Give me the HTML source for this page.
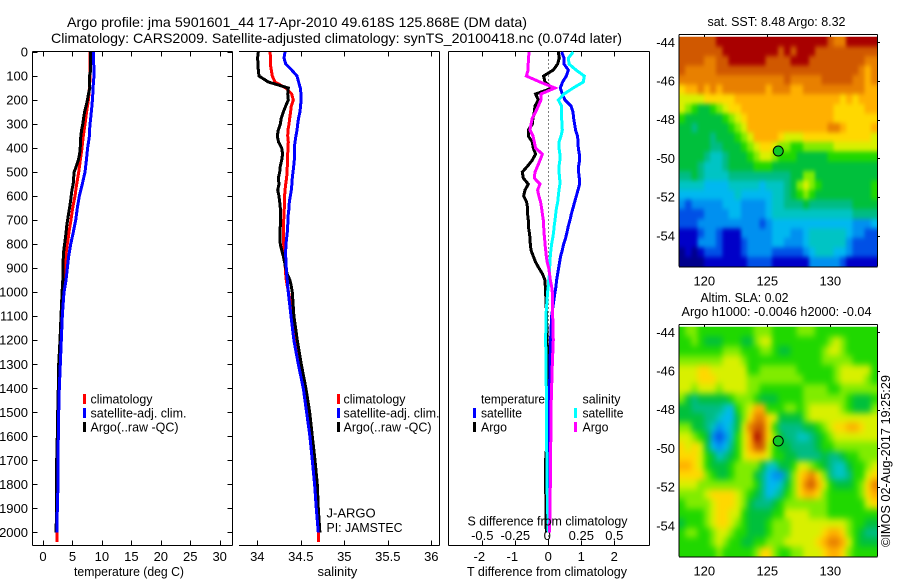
<!DOCTYPE html>
<html lang="en">
<head>
<meta charset="utf-8">
<title>Argo profile jma 5901601_44</title>
<style>
html,body{margin:0;padding:0;background:#fff;width:900px;height:580px;overflow:hidden}
svg{display:block}
text{font-family:"Liberation Sans",sans-serif;font-size:13px;fill:#000}
</style>
</head>
<body>
<svg id="chart" width="900" height="580" viewBox="0 0 900 580" xmlns="http://www.w3.org/2000/svg">
<defs>
<filter id="smooth-sst" filterUnits="userSpaceOnUse" x="640" y="0" width="260" height="300" color-interpolation-filters="sRGB"><feGaussianBlur stdDeviation="1.8 2.4"/></filter>
<filter id="smooth-sla" filterUnits="userSpaceOnUse" x="640" y="290" width="260" height="290" color-interpolation-filters="sRGB"><feGaussianBlur stdDeviation="2.8 3.4"/></filter>
<clipPath id="clip-sst"><rect x="679" y="36.7" width="198" height="230"/></clipPath>
<clipPath id="clip-sla"><rect x="679" y="326.7" width="198" height="230"/></clipPath>
</defs>
<rect x="0" y="0" width="900" height="580" fill="#fff"/>
<text x="67" y="27" font-size="14" textLength="460" lengthAdjust="spacingAndGlyphs" style="font-size:14px">Argo profile: jma 5901601_44 17-Apr-2010 49.618S 125.868E (DM data)</text>
<text x="51" y="43" textLength="571" lengthAdjust="spacingAndGlyphs" style="font-size:14px">Climatology: CARS2009. Satellite-adjusted climatology: synTS_20100418.nc (0.074d later)</text>
<g id="p1"></g>
<g id="p2"></g>
<g id="p3"></g>
<g id="m1"></g>
<g id="m2"></g>

<text x="90.5" y="403.5" textLength="62" lengthAdjust="spacingAndGlyphs">climatology</text>
<text x="90.5" y="417.5" textLength="96" lengthAdjust="spacingAndGlyphs">satellite-adj. clim.</text>
<text x="90.5" y="431.5" textLength="88" lengthAdjust="spacingAndGlyphs">Argo(..raw -QC)</text>
<rect x="83" y="394" width="3" height="10" fill="#f00"/>
<rect x="83" y="408" width="3" height="10" fill="#00f"/>
<rect x="83" y="422" width="3" height="10" fill="#000"/>

<text x="343.5" y="403.5" textLength="62" lengthAdjust="spacingAndGlyphs">climatology</text>
<text x="343.5" y="417.5" textLength="96" lengthAdjust="spacingAndGlyphs">satellite-adj. clim.</text>
<text x="343.5" y="431.5" textLength="88" lengthAdjust="spacingAndGlyphs">Argo(..raw -QC)</text>
<rect x="337" y="394" width="3" height="10" fill="#f00"/>
<rect x="337" y="408" width="3" height="10" fill="#00f"/>
<rect x="337" y="422" width="3" height="10" fill="#000"/>
<text x="326.5" y="517.5">J-ARGO</text>
<text x="326.5" y="532" textLength="76" lengthAdjust="spacingAndGlyphs">PI: JAMSTEC</text>

<text x="481" y="403.5" textLength="64" lengthAdjust="spacingAndGlyphs">temperature</text>
<text x="481" y="417.5" textLength="41" lengthAdjust="spacingAndGlyphs">satellite</text>
<text x="481" y="431.5" textLength="26" lengthAdjust="spacingAndGlyphs">Argo</text>
<rect x="473" y="408" width="3" height="10" fill="#00f"/>
<rect x="473" y="422" width="3" height="10" fill="#000"/>
<text x="582.5" y="403.5" textLength="38" lengthAdjust="spacingAndGlyphs">salinity</text>
<text x="582.5" y="417.5" textLength="41" lengthAdjust="spacingAndGlyphs">satellite</text>
<text x="582.5" y="431.5" textLength="26" lengthAdjust="spacingAndGlyphs">Argo</text>
<rect x="574" y="408" width="3" height="10" fill="#0ff"/>
<rect x="574" y="422" width="3" height="10" fill="#f0f"/>

<text x="467.5" y="525.5" textLength="160" lengthAdjust="spacingAndGlyphs">S difference from climatology</text>
<text x="467" y="576" textLength="160" lengthAdjust="spacingAndGlyphs">T difference from climatology</text>
<text x="74" y="576" textLength="110" lengthAdjust="spacingAndGlyphs">temperature (deg C)</text>
<text x="317.5" y="576">salinity</text>

<text x="707.5" y="26" textLength="138" lengthAdjust="spacingAndGlyphs">sat. SST: 8.48  Argo: 8.32</text>
<text x="700.5" y="302" textLength="88" lengthAdjust="spacingAndGlyphs">Altim. SLA: 0.02</text>
<text x="681.5" y="316" textLength="190" lengthAdjust="spacingAndGlyphs">Argo h1000: -0.0046 h2000: -0.04</text>
<text transform="translate(890,547) rotate(-90)" textLength="172" lengthAdjust="spacingAndGlyphs">©IMOS 02-Aug-2017 19:25:29</text>
</svg>
<script>
// ---------- shared depth axis (dbar) ----------
const depthLevels = [0,25,50,75,100,125,150,175,200,225,250,275,300,325,350,375,400,425,450,475,500,525,550,575,600,625,650,675,700,725,750,775,800,825,850,875,900,925,950,975,1000,1100,1200,1300,1400,1500,1600,1700,1800,1900,2000,2040];
const depthTicks = [0,100,200,300,400,500,600,700,800,900,1000,1100,1200,1300,1400,1500,1600,1700,1800,1900,2000];

// ---------- temperature (deg C) ----------
const tempTicks = [0,5,10,15,20,25,30];
const tempClim = [7.98,7.98,7.98,7.98,7.98,7.95,7.87,7.8,7.7,7.55,7.41,7.27,7.13,6.99,6.85,6.73,6.62,6.48,6.34,6.2,6.06,5.89,5.72,5.57,5.43,5.23,5.04,4.89,4.75,4.58,4.41,4.27,4.13,3.99,3.85,3.76,3.68,3.6,3.51,3.42,3.34,3.26,3.09,2.92,2.75,2.64,2.58,2.53,2.53,2.43,2.38,2.38];
const tempSat = [8.55,8.55,8.6,8.66,8.66,8.55,8.5,8.45,8.38,8.3,8.2,8.1,7.98,7.92,7.87,7.72,7.58,7.47,7.36,7.25,7.13,6.9,6.68,6.42,6.17,6,5.83,5.69,5.55,5.35,5.15,4.92,4.7,4.53,4.36,4.25,4.13,4.02,3.9,3.74,3.57,3.28,3.11,2.94,2.77,2.66,2.6,2.55,2.55,2.43,2.38];
const tempArgo = [8.09,8.09,8.09,8.09,7.9,7.87,7.95,7.72,7.53,7.32,7.06,6.9,6.75,6.56,6.42,6.36,6.32,6.22,6,5.65,5.3,5.2,5.13,4.9,4.78,4.65,4.5,4.33,4.18,4.03,3.93,3.8,3.67,3.53,3.45,3.43,3.42,3.4,3.36,3.3,3.25,3.05,2.89,2.66,2.6,2.49,2.43,2.32,2.32,2.32,2.2];

// ---------- salinity ----------
const salTicks = [34,34.5,35,35.5,36];
const salClim = [34.146,34.153,34.149,34.161,34.172,34.203,34.326,34.395,34.414,34.391,34.383,34.372,34.364,34.352,34.349,34.356,34.352,34.349,34.345,34.345,34.341,34.337,34.326,34.318,34.314,34.31,34.31,34.307,34.303,34.303,34.299,34.299,34.303,34.307,34.31,34.318,34.322,34.326,34.333,34.345,34.36,34.406,34.444,34.494,34.544,34.582,34.621,34.648,34.674,34.69,34.701,34.701];
const salSat = [34.318,34.307,34.326,34.395,34.456,34.475,34.494,34.502,34.502,34.498,34.49,34.475,34.464,34.456,34.444,34.433,34.425,34.425,34.425,34.418,34.41,34.402,34.398,34.391,34.379,34.368,34.364,34.356,34.352,34.349,34.345,34.337,34.33,34.326,34.326,34.33,34.333,34.337,34.345,34.349,34.356,34.387,34.421,34.471,34.529,34.567,34.605,34.632,34.659,34.678,34.701];
const salArgo = [34.011,34.004,34.008,34.011,34.019,34.126,34.356,34.349,34.356,34.326,34.299,34.276,34.264,34.241,34.23,34.245,34.28,34.291,34.28,34.264,34.257,34.241,34.249,34.234,34.249,34.257,34.264,34.268,34.268,34.264,34.26,34.26,34.264,34.28,34.299,34.314,34.326,34.345,34.375,34.391,34.402,34.421,34.46,34.506,34.559,34.602,34.632,34.663,34.69,34.701,34.72];

// ---------- differences from climatology ----------
const tDiffTicks = [-2,-1,0,1,2];
const sDiffTicks = [-0.5,-0.25,0,0.25,0.5];
const tDiffSat = [0.404,0.475,0.475,0.606,0.545,0.434,0.364,0.424,0.505,0.687,0.747,0.768,0.798,0.828,0.889,0.899,0.909,0.939,0.949,0.919,0.919,0.939,0.949,0.899,0.848,0.798,0.747,0.697,0.657,0.606,0.566,0.525,0.465,0.424,0.374,0.343,0.313,0.283,0.253,0.232,0.202,0.101,0.071,0.051,0.04,0.03,0.03,0.02,0.02,0.01,0];
const tDiffArgo = [0.303,0.333,0.283,0.152,-0.141,-0.101,0.121,-0.384,-0.303,-0.404,-0.424,-0.465,-0.485,-0.606,-0.606,-0.485,-0.455,-0.384,-0.485,-0.626,-0.788,-0.758,-0.606,-0.707,-0.747,-0.657,-0.626,-0.626,-0.606,-0.606,-0.576,-0.556,-0.545,-0.525,-0.455,-0.384,-0.283,-0.172,-0.101,-0.091,-0.081,-0.051,-0.04,0,0,-0.01,-0.03,-0.081,-0.081,-0.071,-0.061];
const sDiffSat = [0.189,0.152,0.157,0.21,0.273,0.265,0.189,0.119,0.076,0.101,0.101,0.101,0.104,0.106,0.096,0.081,0.081,0.088,0.088,0.081,0.081,0.086,0.088,0.081,0.076,0.071,0.061,0.056,0.051,0.045,0.04,0.033,0.025,0.02,0.015,0.013,0.01,0.008,0.003,0,-0.005,-0.018,-0.02,-0.018,-0.015,-0.015,-0.015,-0.01,-0.01,-0.005,0];
const sDiffArgo = [-0.146,-0.149,-0.152,-0.152,-0.167,-0.063,0.051,-0.056,-0.056,-0.076,-0.096,-0.121,-0.131,-0.139,-0.116,-0.106,-0.096,-0.045,-0.063,-0.081,-0.101,-0.106,-0.063,-0.081,-0.071,-0.058,-0.051,-0.045,-0.038,-0.035,-0.033,-0.028,-0.025,-0.02,-0.015,-0.008,0.003,0.01,0.015,0.025,0.03,0.033,0.038,0.03,0.025,0.02,0.02,0.015,0.015,0.013,0.01];

// ---------- maps ----------
const lonTicks = [120,125,130];
const latTicks = [-44,-46,-48,-50,-52,-54];
const profileLon = 125.868;
const profileLat = -49.618;
const colorLevels = ['#00008c','#0000c8','#0050e6','#0090f0','#00b8f0','#00c4c4','#00bc84','#00c03c','#20d800','#80ec00','#d8f000','#ffd800','#ffb000','#e88000','#d05800','#a80000'];
const sstCells = [
[14,14,14,14,14,14,15,15,15,15,15,15,15,15,15,15,15,15,15,15,15,15,15,15,14,13,13,15,15,15,15,15],
[14,14,14,14,14,14,14,15,15,15,15,15,15,15,15,15,14,15,14,15,15,15,14,14,14,14,14,14,14,14,14,14],
[14,14,14,14,13,13,14,14,15,15,15,15,15,15,14,14,14,14,15,15,15,14,14,14,14,14,14,14,14,14,13,13],
[14,13,13,13,13,13,14,14,14,14,14,14,14,14,14,14,14,14,14,14,14,14,14,14,14,14,14,14,14,13,12,13],
[13,13,13,13,13,13,13,13,13,13,13,13,13,13,13,13,13,14,13,13,13,13,13,14,14,14,14,14,13,13,12,13],
[11,12,12,13,12,13,12,13,13,13,13,13,13,13,12,13,13,13,12,12,13,13,13,13,13,13,13,13,13,13,12,12],
[10,10,10,10,11,11,11,11,11,12,12,12,12,12,12,12,12,12,12,12,12,12,12,12,12,12,11,12,11,12,12,12],
[10,9,8,7,7,8,9,10,11,11,12,12,12,12,12,12,12,12,12,12,12,12,12,12,12,11,11,11,11,11,12,12],
[8,7,7,7,7,7,7,8,9,10,11,12,12,12,12,12,12,12,12,12,12,12,12,12,12,11,11,11,11,11,11,11],
[7,7,6,7,7,7,7,7,8,9,10,12,12,12,12,12,12,12,12,12,12,12,12,12,13,13,12,11,11,11,11,12],
[7,7,7,7,7,6,7,7,7,8,9,10,12,12,12,12,11,10,10,10,11,11,11,11,11,11,11,11,11,11,11,10],
[7,7,7,7,7,6,6,7,7,7,8,9,10,11,11,10,9,9,8,8,9,9,9,9,9,10,10,10,10,10,10,10],
[7,7,7,7,6,5,5,6,7,7,7,8,9,10,10,9,8,8,8,7,7,7,7,7,8,8,8,8,8,8,8,8],
[7,7,7,6,5,5,5,6,7,7,7,7,8,8,8,7,7,7,7,7,7,7,7,7,7,7,7,7,7,7,7,7],
[6,6,7,6,5,5,5,5,6,6,6,6,6,6,6,6,6,6,7,7,9,9,7,7,7,7,7,7,7,7,7,7],
[5,5,5,5,4,4,4,4,5,5,5,5,5,4,5,5,5,6,7,9,10,9,8,7,7,7,7,7,7,7,7,8],
[4,4,4,4,4,4,4,4,4,5,4,4,4,4,4,5,5,6,7,8,9,8,7,7,7,7,7,7,7,7,7,8],
[3,2,3,3,3,3,3,4,4,4,3,3,3,3,4,5,5,6,6,6,7,6,6,6,6,6,6,6,7,7,7,7],
[2,2,2,2,3,3,3,3,4,4,3,3,3,3,4,5,5,5,5,5,5,5,5,5,5,5,5,5,6,6,6,6],
[2,2,2,3,3,3,3,3,3,3,3,3,3,2,3,4,4,4,4,4,4,4,4,4,4,4,4,4,3,3,3,4],
[1,1,1,2,3,3,2,1,1,1,3,3,3,3,3,4,4,4,3,3,4,5,5,5,5,5,5,4,3,3,2,2],
[1,1,1,3,3,3,2,1,1,1,2,3,3,3,3,4,4,3,3,3,4,5,5,5,5,5,5,3,2,2,2,2],
[0,1,0,1,2,2,2,1,1,1,2,3,3,3,3,2,2,2,2,2,3,4,5,5,5,4,4,3,2,2,2,2],
[0,0,0,0,1,1,1,1,1,1,1,2,2,2,2,1,1,1,1,1,1,3,3,3,3,3,2,1,1,1,1,1]
];
const slaCells = [
[8,9,9,8,8,8,8,8,8,8,8,8,9,9,9,8,8,8,8,9,9,9,8,8,8,8,8,8,8,8,8,8],
[8,8,9,8,7,7,7,8,8,8,7,7,9,10,10,8,8,8,8,8,8,8,8,8,9,10,9,8,8,8,8,8],
[8,8,8,8,8,8,8,9,9,9,8,8,8,9,9,8,7,7,8,8,8,8,8,9,10,10,9,8,8,8,8,8],
[9,9,9,9,9,9,9,10,10,10,9,8,8,8,8,8,8,8,8,8,8,8,8,9,9,9,9,9,8,8,8,8],
[10,10,10,11,11,10,10,10,10,10,10,8,8,9,9,9,9,9,9,8,8,8,8,8,8,9,10,10,10,10,10,8],
[10,10,10,11,11,11,10,10,10,10,10,9,9,9,9,9,9,9,9,9,8,8,8,8,8,9,10,10,10,10,9,8],
[10,10,9,10,10,10,9,10,10,10,10,9,9,8,8,8,8,8,8,8,9,9,9,9,8,8,9,9,9,9,9,9],
[9,7,6,7,7,7,7,7,8,9,9,9,8,7,7,7,8,8,8,8,9,9,9,9,9,9,9,8,7,7,7,8],
[7,7,6,6,6,6,6,5,4,8,9,10,12,12,8,8,8,9,9,8,9,10,10,10,10,10,9,8,7,7,7,9],
[7,7,7,7,6,6,5,4,4,7,9,11,13,13,11,10,7,7,7,7,9,10,10,10,10,10,10,10,10,10,10,10],
[9,9,7,7,6,5,3,4,5,7,10,13,14,14,11,8,6,6,6,6,7,7,8,9,10,11,11,12,12,11,10,10],
[10,10,9,8,7,3,2,3,5,8,10,12,15,14,11,9,7,6,6,5,5,6,7,8,9,10,10,10,10,10,10,10],
[11,10,11,10,7,4,3,4,6,8,10,12,14,14,10,8,7,7,6,6,6,6,7,8,8,9,9,9,9,9,9,9],
[11,11,11,10,8,7,5,6,7,8,10,11,11,11,10,8,8,7,7,6,6,6,6,7,6,6,7,8,8,9,9,9],
[12,12,11,10,8,7,7,7,8,9,9,9,9,7,5,5,7,7,8,10,10,9,8,7,6,5,5,7,8,8,9,10],
[11,11,11,11,9,8,7,7,8,9,9,9,7,6,4,3,3,6,9,11,12,13,11,9,6,5,5,6,8,8,10,11],
[10,10,10,9,9,9,9,9,9,9,9,9,8,6,4,4,5,7,9,11,13,14,12,10,8,7,7,7,8,9,11,13],
[9,9,9,9,10,11,11,11,11,10,9,8,7,6,4,5,6,8,9,11,12,12,11,9,8,8,8,8,8,9,11,12],
[8,9,9,9,9,10,11,11,11,10,9,7,6,6,6,7,8,9,9,9,9,9,9,9,8,8,8,8,8,8,10,11],
[8,8,8,8,9,10,11,11,10,10,8,7,7,7,7,8,8,10,10,10,10,9,9,9,8,8,8,8,8,8,8,8],
[7,8,8,8,9,10,11,11,10,9,8,7,7,7,8,9,9,9,10,10,10,10,10,10,10,10,10,9,8,8,7,7],
[8,9,9,8,8,9,10,10,9,8,8,7,7,7,8,9,9,9,10,10,10,10,10,11,12,12,11,9,8,7,6,6],
[8,8,8,8,8,9,10,9,8,8,7,7,8,8,9,9,9,10,10,10,10,10,11,12,13,13,12,10,8,7,7,7],
[8,8,8,8,8,8,9,8,8,8,8,8,9,11,11,9,8,8,9,9,10,10,10,11,12,12,11,9,8,8,8,8]
];

// ---------- axis functions ----------
const NS = 'http://www.w3.org/2000/svg';
const yDepth = d => 52 + d * 0.2402;
const xTemp = t => 43 + t * 5.89;
const xSal = s => 257.3 + (s - 34) * 87;
const xTDiff = t => 548.3 + t * 33;
const xSDiff = s => 548.3 + s * 132;
const xLon = lon => 704.3 + (lon - 120) * 12.6;
const yLat = (lat, top) => top + 8.3 + (-44 - lat) * 19.35;

function line(parent, name, x1, y1, x2, y2) {
  const el = document.createElementNS(NS, 'line');
  
  
  el.setAttribute('x1', x1);
  el.setAttribute('y1', y1);
  el.setAttribute('x2', x2);
  el.setAttribute('y2', y2);
  el.setAttribute('stroke', '#000');
  el.setAttribute('stroke-width', '1');
  el.setAttribute('shape-rendering', 'crispEdges');
  parent.appendChild(el);
  return el;
}
function label(parent, name, x, y, str, anchor) {
  const el = document.createElementNS(NS, 'text');
  
  
  el.setAttribute('x', x);
  el.setAttribute('y', y);
  el.setAttribute('text-anchor', anchor);
  el.textContent = str;
  parent.appendChild(el);
  return el;
}
function profile(parent, name, values, xFn, color) {
  const pts = values.map((v, i) => xFn(v).toFixed(1) + ',' + yDepth(depthLevels[i]).toFixed(1)).join(' ');
  const el = document.createElementNS(NS, 'polyline');
  
  
  el.setAttribute('points', pts);
  el.setAttribute('fill', 'none');
  el.setAttribute('stroke', color);
  el.setAttribute('stroke-width', '3');
  el.setAttribute('shape-rendering', 'crispEdges');
  parent.appendChild(el);
  return el;
}
const top0 = 51.5, bot0 = 545.5;

// ---------- panel 1: temperature ----------
const p1 = document.getElementById('p1');
line(p1, 'temperature-axis-top', 32.5, top0, 232.5, top0);
line(p1, 'temperature-axis-bottom', 32.5, bot0, 232.5, bot0);
line(p1, 'temperature-axis-left', 32.5, top0, 32.5, bot0);
line(p1, 'temperature-axis-right', 232.5, top0, 232.5, bot0);
depthTicks.forEach(d => {
  const y = Math.round(yDepth(d)) + 0.5;
  line(p1, 'depth-tick-left', 32.5, y, 37.5, y);
  line(p1, 'depth-tick-right', 227.5, y, 232.5, y);
  label(p1, 'depth-tick-label', 28, yDepth(d) + 4.5, String(d), 'end');
});
tempTicks.forEach(t => {
  const x = Math.round(xTemp(t)) + 0.5;
  line(p1, 'temperature-tick-top', x, top0, x, top0 + 5);
  line(p1, 'temperature-tick-bottom', x, bot0 - 5, x, bot0);
  label(p1, 'temperature-tick-label', xTemp(t), 561, String(t), 'middle');
});
profile(p1, 'temperature-climatology-line', tempClim, xTemp, '#f00');
profile(p1, 'temperature-argo-line', tempArgo, xTemp, '#000');
profile(p1, 'temperature-satellite-line', tempSat, xTemp, '#00f');

// ---------- panel 2: salinity ----------
const p2 = document.getElementById('p2');
line(p2, 'salinity-axis-top', 239, top0, 439.5, top0);
line(p2, 'salinity-axis-bottom', 239, bot0, 439.5, bot0);
line(p2, 'salinity-axis-right', 439.5, top0, 439.5, bot0);
salTicks.forEach(s => {
  const x = Math.round(xSal(s)) + 0.5;
  line(p2, 'salinity-tick-top', x, top0, x, top0 + 5);
  line(p2, 'salinity-tick-bottom', x, bot0 - 5, x, bot0);
  label(p2, 'salinity-tick-label', xSal(s), 561, String(s), 'middle');
});
profile(p2, 'salinity-climatology-line', salClim, xSal, '#f00');
profile(p2, 'salinity-argo-line', salArgo, xSal, '#000');
profile(p2, 'salinity-satellite-line', salSat, xSal, '#00f');

// ---------- panel 3: differences ----------
const p3 = document.getElementById('p3');
line(p3, 'difference-axis-top', 448.5, top0, 649.5, top0);
line(p3, 'difference-axis-bottom', 448.5, bot0, 649.5, bot0);
line(p3, 'difference-axis-left', 448.5, top0, 448.5, bot0);
line(p3, 'difference-axis-right', 649.5, top0, 649.5, bot0);
tDiffTicks.forEach(t => {
  const x = Math.round(xTDiff(t)) + 0.5;
  line(p3, 'difference-tick-top', x, top0, x, top0 + 5);
  line(p3, 'difference-tick-bottom', x, bot0 - 5, x, bot0);
  label(p3, 'difference-t-tick-label', xTDiff(t) - (t < 0 ? 3 : 0), 561, String(t), 'middle');
});
sDiffTicks.forEach(s => {
  label(p3, 'difference-s-tick-label', xSDiff(s) - (s === 0 ? 1 : 0), 540, String(s), 'middle');
});
const zeroLine = line(p3, 'zero-difference-line', 548.5, top0, 548.5, bot0);
zeroLine.setAttribute('stroke-dasharray', '1 3');
profile(p3, 'difference-t-argo-line', tDiffArgo, xTDiff, '#000');
profile(p3, 'difference-t-satellite-line', tDiffSat, xTDiff, '#00f');
profile(p3, 'difference-s-satellite-line', sDiffSat, xSDiff, '#0ff');
profile(p3, 'difference-s-argo-line', sDiffArgo, xSDiff, '#f0f');

// ---------- maps ----------
function drawMap(group, prefix, cells, top, clipId, filterId) {
  const imgTop = top + 2.7, imgH = 230, imgL = 679, imgW = 198;
  const rows = cells.length, cols = cells[0].length;
  const clip = document.createElementNS(NS, 'g');
  
  
  clip.setAttribute('clip-path', 'url(#' + clipId + ')');
  group.appendChild(clip);
  const blur = document.createElementNS(NS, 'g');
  
  
  blur.setAttribute('filter', 'url(#' + filterId + ')');
  clip.appendChild(blur);
  const pad = 12;
  cells.forEach((row, r) => {
    row.forEach((v, c) => {
      const el = document.createElementNS(NS, 'rect');
      const x0 = imgL + c * imgW / cols - (c === 0 ? pad : 0);
      const x1 = imgL + (c + 1) * imgW / cols + (c === cols - 1 ? pad : 0.5);
      const y0 = imgTop + r * imgH / rows - (r === 0 ? pad : 0);
      const y1 = imgTop + (r + 1) * imgH / rows + (r === rows - 1 ? pad : 0.5);
      
      
      el.setAttribute('x', x0);
      el.setAttribute('y', y0);
      el.setAttribute('width', x1 - x0);
      el.setAttribute('height', y1 - y0);
      el.setAttribute('fill', colorLevels[v]);
      el.setAttribute('shape-rendering', 'crispEdges');
      blur.appendChild(el);
    });
  });
  const b = imgTop + imgH;
  line(group, prefix + '-axis-top', 679, top + 0.5, 877.5, top + 0.5);
  line(group, prefix + '-axis-bottom', 679, b + 0.5, 877.5, b + 0.5);
  line(group, prefix + '-axis-left', 679, top + 0.5, 679, b);
  line(group, prefix + '-axis-right', 877.5, top + 0.5, 877.5, b);
  lonTicks.forEach(lon => {
    const x = Math.round(xLon(lon)) + 0.5;
    line(group, prefix + '-lon-tick', x, top, x, top + 3);
    label(group, prefix + '-lon-tick-label', xLon(lon), b + 19, String(lon), 'middle');
  });
  latTicks.forEach(lat => {
    const y = Math.round(yLat(lat, top)) + 0.5;
    line(group, prefix + '-lat-tick', 877, y, 880, y);
    label(group, prefix + '-lat-tick-label', 675, yLat(lat, top) + 4.5, String(lat), 'end');
  });
  const m = document.createElementNS(NS, 'circle');
  
  
  m.setAttribute('cx', xLon(profileLon));
  m.setAttribute('cy', yLat(profileLat, top));
  m.setAttribute('r', '5');
  m.setAttribute('fill', '#10c828');
  m.setAttribute('stroke', '#000');
  m.setAttribute('stroke-width', '1');
  group.appendChild(m);
}
drawMap(document.getElementById('m1'), 'sst-map', sstCells, 34, 'clip-sst', 'smooth-sst');
drawMap(document.getElementById('m2'), 'sla-map', slaCells, 324, 'clip-sla', 'smooth-sla');
</script>
</body>
</html>
